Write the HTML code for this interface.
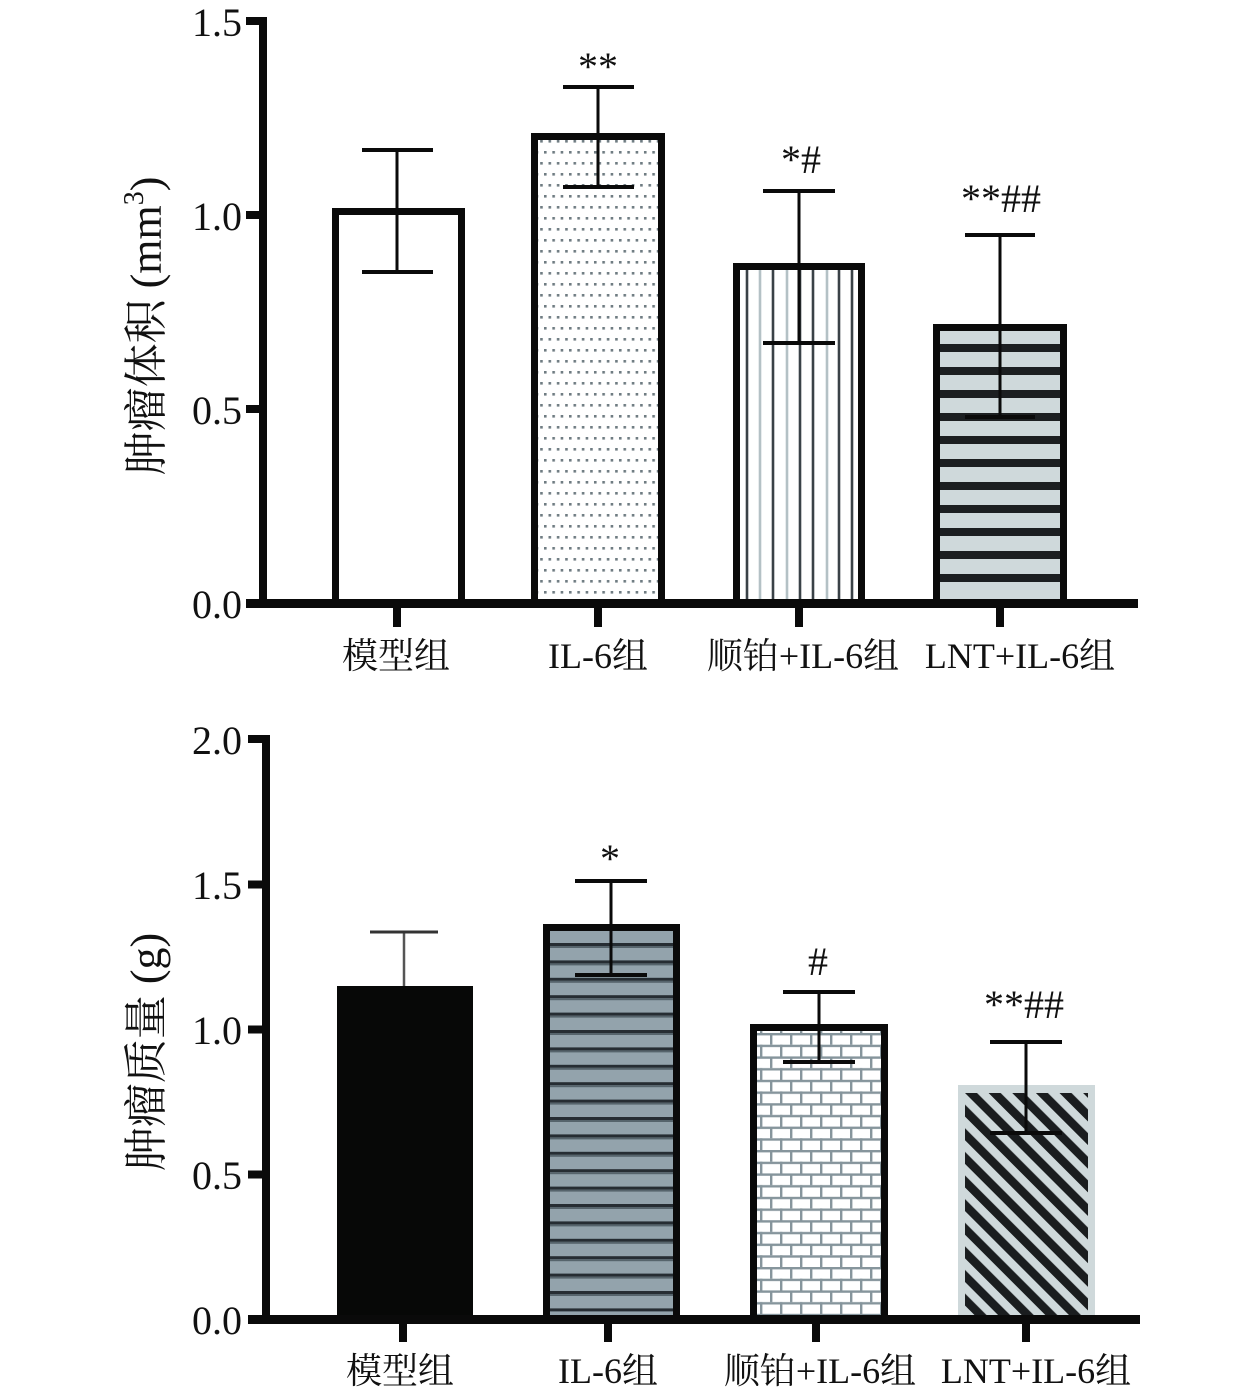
<!DOCTYPE html>
<html>
<head>
<meta charset="utf-8">
<style>
html,body{margin:0;padding:0;background:#fff;}
svg{display:block;}
text{font-family:"Liberation Serif","Noto Serif CJK SC","Noto Sans CJK SC",serif;fill:#111;}
</style>
</head>
<body>
<svg width="1260" height="1397" viewBox="0 0 1260 1397" xmlns="http://www.w3.org/2000/svg">
<defs>
  <pattern id="dots" patternUnits="userSpaceOnUse" x="544" y="151" width="8.33" height="22">
    <rect x="0" y="0" width="2.6" height="2.6" fill="#6f7c82"/>
    <rect x="4.5" y="11" width="2.6" height="2.6" fill="#6f7c82"/>
  </pattern>
  <pattern id="brick" patternUnits="userSpaceOnUse" x="750" y="1033" width="20" height="23.4">
    <rect width="20" height="23.4" fill="#ffffff"/>
    <rect x="0" y="0" width="20" height="2.4" fill="#86959c"/>
    <rect x="0" y="11.7" width="20" height="2.4" fill="#86959c"/>
    <rect x="0" y="0" width="2.4" height="11.7" fill="#86959c"/>
    <rect x="10" y="11.7" width="2.4" height="11.7" fill="#86959c"/>
  </pattern>
  <pattern id="diag" patternUnits="userSpaceOnUse" x="965" y="1093" width="16.7" height="16.7" patternTransform="rotate(-45 965 1093)">
    <rect width="16.7" height="16.7" fill="#cfd9db"/>
    <rect x="0" y="0" width="8.5" height="16.7" fill="#1a1d1f"/>
  </pattern>
</defs>

<!-- ================= TOP CHART ================= -->
<!-- bars -->
<!-- bar 1 -->
<rect x="335.5" y="211.5" width="126" height="392" fill="#fff" stroke="#0a0a0a" stroke-width="7"/>
<!-- bar 2 dots -->
<rect x="535" y="137" width="126" height="466" fill="#fff"/>
<rect x="538" y="140" width="120" height="463" fill="url(#dots)"/>
<rect x="534.5" y="136.5" width="127" height="467" fill="none" stroke="#0a0a0a" stroke-width="7"/>
<!-- bar 3 vertical lines -->
<rect x="736.5" y="266.5" width="125" height="337" fill="#fff"/>
<g stroke-width="2.6">
  <line x1="747" y1="270" x2="747" y2="603" stroke="#3a4247"/>
  <line x1="760" y1="270" x2="760" y2="603" stroke="#b4c1c5"/>
  <line x1="773" y1="270" x2="773" y2="603" stroke="#3a4247"/>
  <line x1="787" y1="270" x2="787" y2="603" stroke="#b4c1c5"/>
  <line x1="800" y1="270" x2="800" y2="603" stroke="#3a4247"/>
  <line x1="813" y1="270" x2="813" y2="603" stroke="#3a4247"/>
  <line x1="827" y1="270" x2="827" y2="603" stroke="#b4c1c5"/>
  <line x1="839" y1="270" x2="839" y2="603" stroke="#3a4247"/>
  <line x1="852" y1="270" x2="852" y2="603" stroke="#3a4247"/>
</g>
<rect x="736.5" y="266.5" width="125" height="337" fill="none" stroke="#0a0a0a" stroke-width="7"/>
<!-- bar 4 horizontal stripes -->
<rect x="936.5" y="327.5" width="127" height="276" fill="#cfd9db"/>
<g fill="#1c1f21">
  <rect x="940" y="344" width="120" height="8"/>
  <rect x="940" y="367" width="120" height="8"/>
  <rect x="940" y="390" width="120" height="8"/>
  <rect x="940" y="413" width="120" height="8"/>
  <rect x="940" y="436" width="120" height="8"/>
  <rect x="940" y="459" width="120" height="8"/>
  <rect x="940" y="482" width="120" height="8"/>
  <rect x="940" y="505" width="120" height="8"/>
  <rect x="940" y="528" width="120" height="8"/>
  <rect x="940" y="551" width="120" height="8"/>
  <rect x="940" y="574" width="120" height="8"/>
</g>
<rect x="936.5" y="327.5" width="127" height="276" fill="none" stroke="#0a0a0a" stroke-width="7"/>

<!-- error bars top -->
<g stroke="#0a0a0a">
  <line x1="397" y1="150" x2="397" y2="272" stroke-width="3"/>
  <line x1="362" y1="150" x2="433" y2="150" stroke-width="4"/>
  <line x1="362" y1="272" x2="433" y2="272" stroke-width="4"/>

  <line x1="598" y1="87" x2="598" y2="187" stroke-width="3"/>
  <line x1="563" y1="87" x2="634" y2="87" stroke-width="4"/>
  <line x1="563" y1="187" x2="634" y2="187" stroke-width="4"/>

  <line x1="799" y1="191" x2="799" y2="343" stroke-width="3"/>
  <line x1="763" y1="191" x2="835" y2="191" stroke-width="4"/>
  <line x1="763" y1="343" x2="835" y2="343" stroke-width="4"/>

  <line x1="1000" y1="235" x2="1000" y2="417" stroke-width="3"/>
  <line x1="965" y1="235" x2="1035" y2="235" stroke-width="4"/>
  <line x1="965" y1="417" x2="1035" y2="417" stroke-width="4"/>
</g>

<!-- axes top -->
<g fill="#0a0a0a">
  <rect x="259" y="17" width="8" height="591"/>
  <rect x="246" y="17" width="21" height="8"/>
  <rect x="246" y="211" width="21" height="8"/>
  <rect x="246" y="405" width="21" height="8"/>
  <rect x="246" y="599" width="892" height="9"/>
  <rect x="393" y="606" width="8" height="21"/>
  <rect x="594" y="606" width="8" height="21"/>
  <rect x="795" y="606" width="8" height="21"/>
  <rect x="996" y="606" width="8" height="21"/>
</g>
<g font-size="40" text-anchor="end">
  <text x="242" y="36">1.5</text>
  <text x="242" y="230">1.0</text>
  <text x="242" y="424">0.5</text>
  <text x="242" y="618">0.0</text>
</g>
<g font-size="36" text-anchor="middle">
  <text x="396" y="668">模型组</text>
  <text x="598" y="668">IL-6组</text>
  <text x="803" y="668">顺铂+IL-6组</text>
  <text x="1020" y="668">LNT+IL-6组</text>
</g>
<text font-size="44" text-anchor="middle" transform="translate(161 326) rotate(-90)">肿瘤体积 (mm<tspan font-size="28" dy="-18">3</tspan><tspan dy="18">)</tspan></text>
<g font-size="40" text-anchor="middle">
  <text x="598" y="80">**</text>
  <text x="801" y="173">*#</text>
  <text x="1001" y="212">**##</text>
</g>

<!-- ================= BOTTOM CHART ================= -->
<!-- bar 1 solid black -->
<rect x="337" y="986" width="136" height="334" fill="#070807"/>
<!-- bar 2 gray with lines -->
<rect x="546.5" y="927.5" width="130" height="392" fill="#93a3ac"/>
<g>
  <rect x="550" y="943" width="123" height="3" fill="#262d33"/>
  <rect x="550" y="960.4" width="123" height="3" fill="#262d33"/>
  <rect x="550" y="977.8" width="123" height="3" fill="#262d33"/>
  <rect x="550" y="995.2" width="123" height="3" fill="#262d33"/>
  <rect x="550" y="1012.6" width="123" height="3" fill="#262d33"/>
  <rect x="550" y="1030" width="123" height="3" fill="#262d33"/>
  <rect x="550" y="1047.4" width="123" height="3" fill="#262d33"/>
  <rect x="550" y="1064.8" width="123" height="3" fill="#262d33"/>
  <rect x="550" y="1082.2" width="123" height="3" fill="#262d33"/>
  <rect x="550" y="1099.6" width="123" height="3" fill="#262d33"/>
  <rect x="550" y="1117" width="123" height="3" fill="#262d33"/>
  <rect x="550" y="1134.4" width="123" height="3" fill="#262d33"/>
  <rect x="550" y="1151.8" width="123" height="3" fill="#262d33"/>
  <rect x="550" y="1169.2" width="123" height="3" fill="#262d33"/>
  <rect x="550" y="1186.6" width="123" height="3" fill="#262d33"/>
  <rect x="550" y="1204" width="123" height="3" fill="#262d33"/>
  <rect x="550" y="1221.4" width="123" height="3" fill="#262d33"/>
  <rect x="550" y="1238.8" width="123" height="3" fill="#262d33"/>
  <rect x="550" y="1256.2" width="123" height="3" fill="#262d33"/>
  <rect x="550" y="1273.6" width="123" height="3" fill="#262d33"/>
  <rect x="550" y="1291" width="123" height="3" fill="#262d33"/>
  <rect x="550" y="1308.4" width="123" height="3" fill="#262d33"/>
</g>
<g fill="#56646c">
  <rect x="550" y="946" width="123" height="2"/>
  <rect x="550" y="963.4" width="123" height="2"/>
  <rect x="550" y="980.8" width="123" height="2"/>
  <rect x="550" y="998.2" width="123" height="2"/>
  <rect x="550" y="1015.6" width="123" height="2"/>
  <rect x="550" y="1033" width="123" height="2"/>
  <rect x="550" y="1050.4" width="123" height="2"/>
  <rect x="550" y="1067.8" width="123" height="2"/>
  <rect x="550" y="1085.2" width="123" height="2"/>
  <rect x="550" y="1102.6" width="123" height="2"/>
  <rect x="550" y="1120" width="123" height="2"/>
  <rect x="550" y="1137.4" width="123" height="2"/>
  <rect x="550" y="1154.8" width="123" height="2"/>
  <rect x="550" y="1172.2" width="123" height="2"/>
  <rect x="550" y="1189.6" width="123" height="2"/>
  <rect x="550" y="1207" width="123" height="2"/>
  <rect x="550" y="1224.4" width="123" height="2"/>
  <rect x="550" y="1241.8" width="123" height="2"/>
  <rect x="550" y="1259.2" width="123" height="2"/>
  <rect x="550" y="1276.6" width="123" height="2"/>
  <rect x="550" y="1294" width="123" height="2"/>
</g>
<rect x="546.5" y="927.5" width="130" height="392" fill="none" stroke="#0a0a0a" stroke-width="7"/>
<!-- bar 3 brick -->
<rect x="753.5" y="1027.5" width="131" height="292" fill="url(#brick)"/>
<rect x="753.5" y="1027.5" width="131" height="292" fill="none" stroke="#0a0a0a" stroke-width="7"/>
<!-- bar 4 diagonal -->
<rect x="958" y="1085" width="137" height="235" fill="#cfd9db"/>
<rect x="965" y="1093" width="123" height="222" fill="url(#diag)"/>

<!-- error bars bottom -->
<g stroke="#0a0a0a">
  <line x1="404" y1="932" x2="404" y2="986" stroke-width="2.5" stroke="#555"/>
  <line x1="370" y1="932" x2="438" y2="932" stroke-width="3" stroke="#333"/>

  <line x1="611" y1="881" x2="611" y2="975" stroke-width="3"/>
  <line x1="575" y1="881" x2="647" y2="881" stroke-width="4"/>
  <line x1="575" y1="975" x2="647" y2="975" stroke-width="4"/>

  <line x1="819" y1="992" x2="819" y2="1062" stroke-width="3"/>
  <line x1="783" y1="992" x2="855" y2="992" stroke-width="4"/>
  <line x1="783" y1="1062" x2="855" y2="1062" stroke-width="4"/>

  <line x1="1026" y1="1042" x2="1026" y2="1133" stroke-width="3"/>
  <line x1="990" y1="1042" x2="1062" y2="1042" stroke-width="4"/>
  <line x1="990" y1="1133" x2="1062" y2="1133" stroke-width="4"/>
</g>

<!-- axes bottom -->
<g fill="#0a0a0a">
  <rect x="262" y="735" width="8" height="589"/>
  <rect x="248" y="735" width="22" height="8"/>
  <rect x="248" y="880.5" width="22" height="8"/>
  <rect x="248" y="1025.5" width="22" height="8"/>
  <rect x="248" y="1170.5" width="22" height="8"/>
  <rect x="248" y="1315" width="892" height="9"/>
  <rect x="399" y="1322" width="8" height="20"/>
  <rect x="604" y="1322" width="8" height="20"/>
  <rect x="812" y="1322" width="8" height="20"/>
  <rect x="1022" y="1322" width="8" height="20"/>
</g>
<g font-size="40" text-anchor="end">
  <text x="242" y="754">2.0</text>
  <text x="242" y="899">1.5</text>
  <text x="242" y="1044">1.0</text>
  <text x="242" y="1189">0.5</text>
  <text x="242" y="1334">0.0</text>
</g>
<g font-size="36" text-anchor="middle">
  <text x="400" y="1383">模型组</text>
  <text x="608" y="1383">IL-6组</text>
  <text x="820" y="1383">顺铂+IL-6组</text>
  <text x="1036" y="1383">LNT+IL-6组</text>
</g>
<text font-size="44" text-anchor="middle" transform="translate(161 1052) rotate(-90)">肿瘤质量 (g)</text>
<g font-size="40" text-anchor="middle">
  <text x="610" y="872">*</text>
  <text x="818" y="975">#</text>
  <text x="1024" y="1018">**##</text>
</g>
</svg>
</body>
</html>
